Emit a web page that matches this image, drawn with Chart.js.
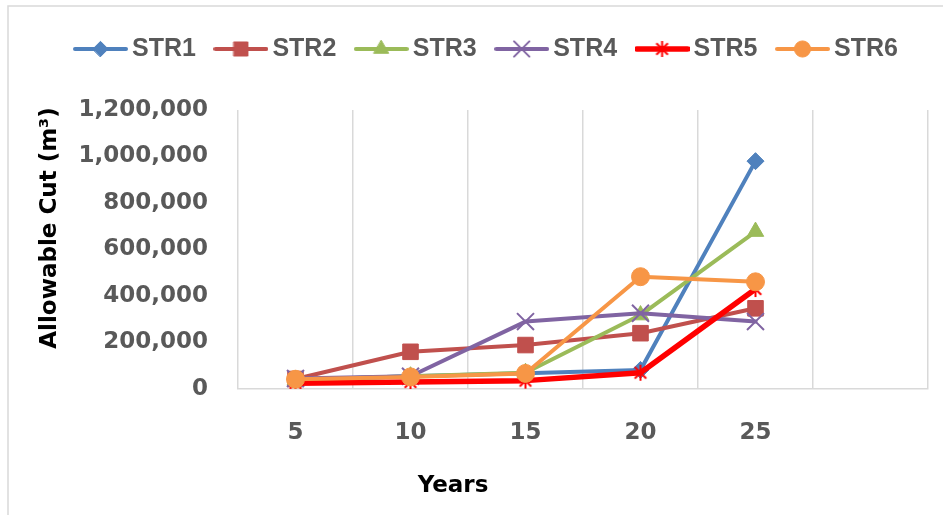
<!DOCTYPE html>
<html>
<head>
<meta charset="utf-8">
<title>Allowable Cut by Strategy</title>
<style>
  html, body { margin: 0; padding: 0; background: #ffffff; }
  #wrap { width: 943px; height: 515px; position: relative; }
</style>
<script src="https://cdn.jsdelivr.net/npm/chart.js@4.4.0/dist/chart.umd.min.js"></script>
</head>
<body>
<div id="wrap"><canvas id="chart" width="943" height="515"></canvas></div>
<script>
// Planning periods (years); the last slot is an empty category
const years = ['5', '10', '15', '20', '25', ''];

// Allowable cut per strategy (m³)
const str1 = [40000, 55000, 68000, 82000, 980000];
const str2 = [43000, 160000, 189000, 240000, 347000];
const str3 = [40000, 55000, 70000, 318000, 677000];
const str4 = [45000, 55000, 290000, 326000, 290000];
const str5 = [25000, 30000, 36000, 70000, 430000];
const str6 = [42000, 52000, 67000, 483000, 461000];

const seriesNames = ['STR1', 'STR2', 'STR3', 'STR4', 'STR5', 'STR6'];
const yTickValues = [0, 200000, 400000, 600000, 800000, 1000000, 1200000];

const axisTitleY = 'Allowable Cut (m³)';
const axisTitleX = 'Years';

const colors = ['#4F81BD', '#C0504D', '#9BBB59', '#8064A2', '#FF0000', '#F79646'];

const tickFont = { family: 'DejaVu Sans', weight: 'bold', size: 23 };
const legendFont = { family: 'Liberation Sans', weight: 'bold', size: 25 };

// Asterisk marker: vertical stroke plus a diagonal cross
function asteriskMarker(color, size, lw) {
  const c = document.createElement('canvas');
  c.width = size; c.height = size;
  const g = c.getContext('2d');
  g.strokeStyle = color;
  g.lineWidth = lw;
  const m = size / 2, r = size / 2 - 1, d = r * 0.72;
  g.beginPath();
  g.moveTo(m, m - r); g.lineTo(m, m + r);
  g.moveTo(m - d, m - d); g.lineTo(m + d, m + d);
  g.moveTo(m + d, m - d); g.lineTo(m - d, m + d);
  g.stroke();
  return c;
}

const markerStyles = ['rectRot', 'rect', 'triangle', 'crossRot', asteriskMarker('#FF0000', 18, 2), 'circle'];
const markerRadius = [8.5, 11, 9.5, 12, 9, 9];
const lineWidths = [4, 4, 4, 4, 5.5, 4];
const seriesData = [str1, str2, str3, str4, str5, str6];

const datasets = seriesNames.map((name, i) => ({
  label: name,
  data: seriesData[i],
  borderColor: colors[i],
  backgroundColor: colors[i],
  borderWidth: lineWidths[i],
  borderCapStyle: 'round',
  borderJoinStyle: 'round',
  tension: 0,
  pointStyle: markerStyles[i],
  pointRadius: markerRadius[i],
  pointHoverRadius: markerRadius[i],
  pointBackgroundColor: colors[i],
  pointBorderColor: colors[i],
  pointBorderWidth: markerStyles[i] === 'crossRot' ? 2 : 1,
  // later series are painted on top
  order: seriesNames.length - i
}));

// Legend symbol: a short line segment with the series marker in the middle
function legendIcon(ds) {
  const w = 55, h = 26;
  const c = document.createElement('canvas');
  c.width = w; c.height = h;
  const g = c.getContext('2d');
  g.strokeStyle = ds.borderColor;
  g.lineWidth = ds.borderWidth;
  g.lineCap = 'round';
  g.beginPath();
  g.moveTo(2, h / 2); g.lineTo(w - 2, h / 2);
  g.stroke();
  const ps = ds.pointStyle;
  if (typeof ps === 'object') {
    g.drawImage(ps, w / 2 - ps.width / 2, h / 2 - ps.height / 2);
  } else {
    g.fillStyle = ds.pointBackgroundColor;
    g.strokeStyle = ds.pointBorderColor;
    g.lineWidth = ds.pointBorderWidth;
    Chart.helpers.drawPoint(g, {
      pointStyle: ps, radius: ds.pointRadius * 0.9,
      borderWidth: ds.pointBorderWidth, rotation: 0
    }, w / 2, h / 2);
  }
  return c;
}
const legendIcons = datasets.map(legendIcon);

// Outer frame and free-standing axis titles
const chartDecor = {
  id: 'chartDecor',
  beforeDraw(chart) {
    const g = chart.ctx;
    g.save();
    g.fillStyle = '#ffffff';
    g.fillRect(0, 0, chart.width, chart.height);
    g.strokeStyle = '#D9D9D9';
    g.lineWidth = 1.5;
    g.beginPath();
    g.moveTo(8, chart.height); g.lineTo(8, 6); g.lineTo(chart.width, 6);
    g.stroke();
    g.restore();
  },
  afterDraw(chart) {
    const g = chart.ctx;
    const a = chart.chartArea;
    g.save();
    g.fillStyle = '#000000';
    g.font = 'bold 23px "DejaVu Sans"';
    g.textAlign = 'center';
    g.textBaseline = 'middle';
    g.fillText(axisTitleX, a.left + 215, a.bottom + 97);
    g.translate(50, a.top + 118);
    g.rotate(-Math.PI / 2);
    g.fillText(axisTitleY, 0, 0);
    g.restore();
  }
};

new Chart(document.getElementById('chart'), {
  type: 'line',
  data: { labels: years, datasets },
  options: {
    responsive: false,
    animation: false,
    layout: { padding: { top: 10.5, left: 51.4, right: 15, bottom: 0 } },
    plugins: {
      tooltip: { enabled: false },
      legend: {
        position: 'top',
        labels: {
          usePointStyle: true,
          pointStyleWidth: 38,
          padding: 26,
          color: '#595959',
          font: legendFont,
          sort: (a, b) => a.datasetIndex - b.datasetIndex,
          generateLabels(chart) {
            const items = Chart.defaults.plugins.legend.labels.generateLabels(chart);
            items.forEach(it => { it.pointStyle = legendIcons[it.datasetIndex]; });
            return items;
          }
        }
      },
      // empty spacer between the legend and the plot area
      title: { display: true, text: ' ', weight: 500, padding: 0, font: { size: 10, lineHeight: 3.85 } }
    },
    scales: {
      x: {
        offset: true,
        grid: { offset: true, color: '#D9D9D9', lineWidth: 1.5, drawTicks: false },
        border: { display: true, color: '#D9D9D9', width: 1.5 },
        ticks: { color: '#595959', font: tickFont, padding: 30, maxRotation: 0, autoSkip: false },
        afterFit(s) { s.height = 126; }
      },
      y: {
        min: 0,
        max: 1200000,
        grid: { display: false, drawTicks: false },
        border: { display: false },
        ticks: {
          color: '#595959', font: tickFont, padding: 30,
          callback: v => v.toLocaleString('en-US')
        },
        afterBuildTicks(s) { s.ticks = yTickValues.map(v => ({ value: v })); },
        afterFit(s) { s.width = 186.6; }
      }
    }
  },
  plugins: [chartDecor]
});
</script>
</body>
</html>
